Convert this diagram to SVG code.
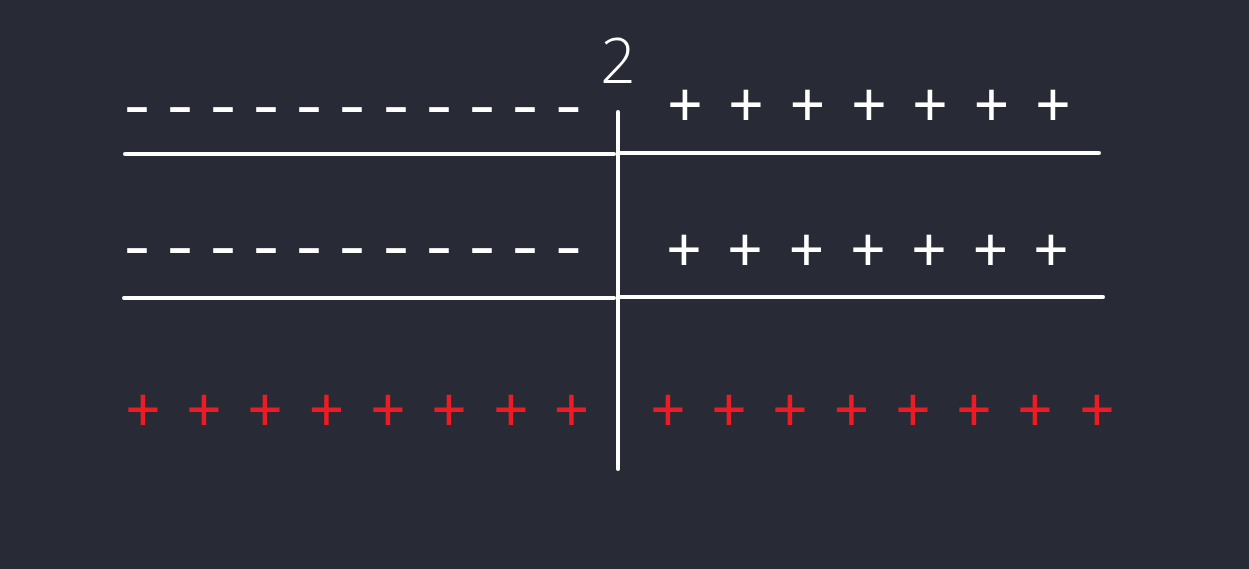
<svg xmlns="http://www.w3.org/2000/svg" width="1249" height="569" viewBox="0 0 1249 569">
<style>
.ln{stroke:#ffffff;stroke-width:4;stroke-linecap:round;fill:none}
.t{font-family:"Noto Sans","Open Sans",sans-serif;font-size:62px;text-anchor:middle}
.w{fill:#ffffff}
.r{fill:#ed1c24}
.thin{font-family:"Open Sans","Noto Sans",sans-serif;font-weight:300}
</style>
<rect width="1249" height="569" fill="#282a36"/>
<g id="connectors">
<line class="ln" x1="125" y1="154" x2="614" y2="154"/>
<line class="ln" x1="620" y1="153" x2="1099" y2="153"/>
<line class="ln" x1="124" y1="298" x2="614" y2="298"/>
<line class="ln" x1="620" y1="297" x2="1103" y2="297"/>
<line class="ln" x1="618" y1="112" x2="618" y2="469"/>
</g>
<g id="label-2"><text class="t w thin" x="618" y="83">2</text></g>
<g id="row1-minus" transform="scale(1.3 1)"><text class="t w" x="105.4 138.5 171.5 204.6 237.7 270.8 304.6 337.7 370.8 403.8 437.3" y="126">-----------</text></g>
<g id="row1-plus"><text class="t w" x="685 746 807.5 869 930 991.5 1053" y="127">+++++++</text></g>
<g id="row2-minus" transform="scale(1.3 1)"><text class="t w" x="105.4 138.5 171.5 204.6 237.7 270.8 304.6 337.7 370.8 403.8 437.3" y="267">-----------</text></g>
<g id="row2-plus"><text class="t w" x="684 745 806.5 868 929 990.5 1051" y="272">+++++++</text></g>
<g id="row3-plus"><text class="t r" x="143 204 265 326.5 388 449 511 571.5 668 729 790 851.5 913 974 1035 1097" y="432">++++++++++++++++</text></g>
</svg>
